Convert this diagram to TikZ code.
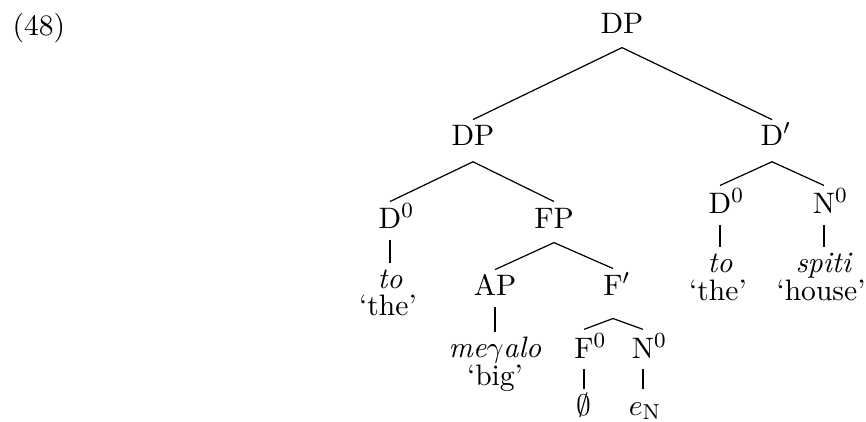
\documentclass[11pt,tikz,border=0pt]{standalone}
\begin{document}
\begin{tikzpicture}[x=0.37pt,y=-0.37pt,
  tn/.style={inner sep=0pt,anchor=base,text height=9.2pt,text depth=5.2pt},
  un/.style={tn,text depth=4.1pt},
  lf/.style={inner sep=0pt,anchor=base,text height=9.2pt,text depth=0pt},
  gl/.style={inner sep=0pt,anchor=base},
  br/.style={line width=0.45pt}]
\useasboundingbox (0,0) rectangle (866,421);
\node[gl,anchor=base west] (ex) at (12,35) {(48)};
% level 0
\node[tn] (dp0) at (622,33) {DP};
% level 1
\node[tn,text depth=6pt] (dp1) at (473,145) {DP};
\node[tn,text depth=6pt] (dbar) at (772,145) {D\rlap{$'$}};
% level 2
\node[un,text height=9.6pt] (d0a) at (390,228) {D\rlap{$^0$}};
\node[tn,text height=9.6pt] (fp) at (554,228) {FP};
\node[un,text height=10pt] (d0b) at (720,213) {D\rlap{$^0$}};
\node[un,text height=10pt] (n0b) at (824,213) {N\rlap{$^0$}};
% leaves right
\node[lf,text height=8.9pt] (tob) at (720,272) {\textit{to}};
\node[lf,text height=8.9pt] (spiti) at (824,272) {\textit{spiti}};
\node[gl] (theb) at (718,300) {`the'};
\node[gl] (house) at (821,300) {`house'};
% left D0 leaf
\node[lf] (toa) at (390,288) {\textit{to}};
\node[gl] (thea) at (388,315) {`the'};
% level 3
\node[un,text height=9.2pt,text depth=4.4pt] (ap) at (495,295) {AP};
\node[tn,text height=9.6pt,text depth=8.5pt] (fbar) at (613,295) {F\rlap{$'$}};
\node[lf] (meyalo) at (495,357) {\textit{me$\gamma$alo}};
\node[gl] (big) at (495,385) {`big'};
% level 4
\node[un,text height=10.4pt,text depth=3.7pt] (f0) at (584,358) {F\rlap{$^0$}};
\node[un,text height=10.4pt,text depth=3.7pt] (n0) at (643,358) {N\rlap{$^0$}};
\node[lf,text height=9.4pt] (empty) at (584,415) {$\emptyset$};
\node[lf,text height=9.4pt] (en) at (645,415) {$e_{\mathrm{N}}$};
% branches
\draw[br] (dp0.south) -- (dp1.north);
\draw[br] (dp0.south) -- (dbar.north);
\draw[br] (dp1.south) -- (d0a.north);
\draw[br] (dp1.south) -- (fp.north);
\draw[br] (dbar.south) -- (d0b.north);
\draw[br] (dbar.south) -- (n0b.north);
\draw[br] (fp.south) -- (ap.north);
\draw[br] (fp.south) -- (fbar.north);
\draw[br] (fbar.south) -- (f0.north);
\draw[br] (fbar.south) -- (n0.north);
\draw[br] (d0a.south) -- (toa.north);
\draw[br] (ap.south) -- (meyalo.north);
\draw[br] (f0.south) -- (empty.north);
\draw[br] (n0.south) -- (n0.south |- en.north);
\draw[br] (d0b.south) -- (tob.north);
\draw[br] (n0b.south) -- (spiti.north);
\end{tikzpicture}
\end{document}
